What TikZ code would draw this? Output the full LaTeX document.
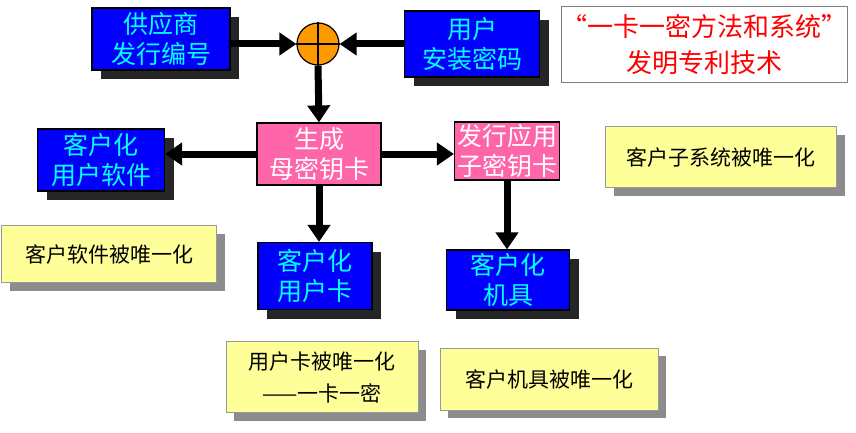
\documentclass[tikz,border=0pt]{standalone}
\usepackage{fontspec}
\setmainfont{Noto Sans CJK SC}
\usetikzlibrary{arrows.meta,positioning,shadows}
\definecolor{bluebox}{RGB}{0,0,250}
\definecolor{cyantext}{RGB}{0,255,255}
\definecolor{pinkbox}{RGB}{255,102,170}
\definecolor{yellowbox}{RGB}{255,255,153}
\definecolor{orangeball}{RGB}{255,153,0}

\begin{document}
\begin{tikzpicture}[
    x=1pt, y=-1pt,
    every node/.style={inner sep=0pt, align=center},
    bluebox/.style={rectangle, draw=black, line width=1.2pt, fill=bluebox, text=cyantext, font=\fontsize{25}{30}\selectfont, drop shadow={shadow xshift=9pt, shadow yshift=-9pt, fill=black!85, opacity=1}},
    pinkbox/.style={rectangle, draw=black, line width=1.2pt, fill=pinkbox, text=white, font=\fontsize{25}{30}\selectfont},
    notebox/.style={rectangle, draw=black!40, line width=0.8pt, fill=yellowbox, font=\fontsize{21}{32}\selectfont, drop shadow={shadow xshift=8pt, shadow yshift=-8pt, fill=black!45, opacity=1}},
    flow/.style={-{Triangle[length=17pt, width=22pt]}, line width=7pt}
]
\useasboundingbox (0,0) rectangle (856,433);

% top row
\node[bluebox, minimum width=138pt, minimum height=62pt] (supplier) at (161,39) {供应商\\发行编号};
\node[bluebox, minimum width=135pt, minimum height=66pt] (password) at (472,44) {用户\\安装密码};
\node[circle, draw=black, line width=1.2pt, fill=orangeball, minimum size=42pt] (mix) at (318,44) {};
\draw[line width=1.2pt] (mix.north) -- (mix.south) (mix.west) -- (mix.east);

\node[draw=black!50, line width=1pt, fill=white, minimum width=285pt, minimum height=76pt, text=red, font=\fontsize{26}{36}\selectfont] (title) at (704,45) {“一卡一密方法和系统”\\发明专利技术};

% middle row
\node[pinkbox, minimum width=124pt, minimum height=62pt] (master) at (319,154) {生成\\母密钥卡};
\node[pinkbox, minimum width=105pt, minimum height=58pt] (subkey) at (507,151) {发行应用\\子密钥卡};
\node[bluebox, minimum width=127pt, minimum height=62pt] (software) at (101,160) {客户化\\用户软件};
\node[notebox, minimum width=231pt, minimum height=61pt] (subsysnote) at (721,157) {客户子系统被唯一化};

% bottom row
\node[bluebox, minimum width=114pt, minimum height=67pt] (card) at (315,276) {客户化\\用户卡};
\node[bluebox, minimum width=123pt, minimum height=60pt] (machine) at (508,280) {客户化\\机具};
\node[notebox, minimum width=215pt, minimum height=57pt] (softnote) at (109,254) {客户软件被唯一化};
\node[notebox, minimum width=192pt, minimum height=71pt] (cardnote) at (322,377) {用户卡被唯一化\\——一卡一密};
\node[notebox, minimum width=218pt, minimum height=62pt] (machnote) at (549,379) {客户机具被唯一化};

% connectors
\draw[flow] (supplier.east |- mix) -- (mix.west);
\draw[flow] (password.west |- mix) -- (mix.east);
\draw[flow] (mix.south) -- (master.north);
\draw[flow] (master.west) -- (software.east |- master);
\draw[flow] (master.east) -- (subkey.west |- master);
\draw[flow] (master.south) -- (card.north -| master.south);
\draw[flow] (subkey.south) -- (machine.north -| subkey.south);

\end{tikzpicture}
\end{document}
